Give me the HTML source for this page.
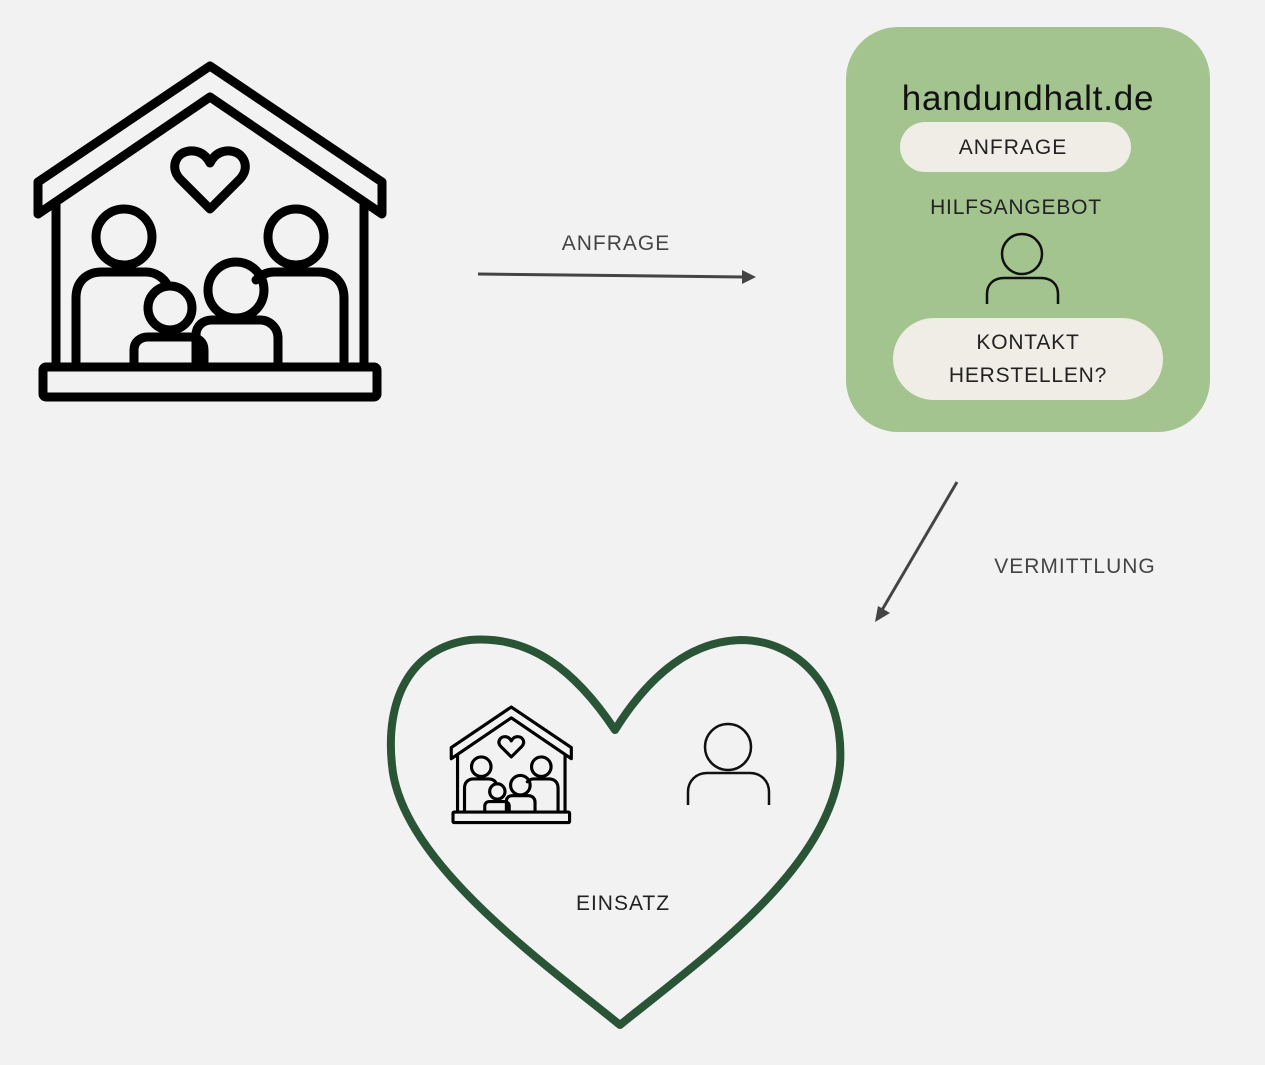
<!DOCTYPE html>
<html><head><meta charset="utf-8"><style>
body{margin:0;background:#f2f2f2;}
svg{display:block;font-family:"Liberation Sans",sans-serif;}
</style></head><body>
<svg width="1265" height="1065" viewBox="0 0 1265 1065" xmlns="http://www.w3.org/2000/svg">
<rect width="1265" height="1065" fill="#f2f2f2"/>
<defs>
<g id="house" fill="none" stroke="#000" stroke-width="9" stroke-linejoin="round" stroke-linecap="round">
<path d="M38,182 L210,66 L382,182 L382,214 L210,97 L38,214 Z"/>
<line x1="56" y1="205" x2="56" y2="366"/>
<line x1="364" y1="205" x2="364" y2="366"/>
<rect x="43" y="367" width="334" height="30" rx="3"/>
<path d="M210,209 L180,179 C168,166 178,149 194,151 C202,152 207,157 210,163 C213,157 218,152 226,151 C242,149 252,166 240,179 Z"/>
<circle cx="124" cy="237" r="28"/>
<path d="M76,362 L76,298 C76,282 86,272 102,272 L146,272 C156,272 164,278 168,286"/>
<circle cx="296" cy="237" r="28"/>
<path d="M344,362 L344,298 C344,282 334,272 318,272 L274,272 C266,272 260,276 256,280"/>
<circle cx="170" cy="308" r="22"/>
<path d="M134,362 L134,350 C134,342 140,337 148,337 L190,337 C198,337 204,342 204,350 L204,362"/>
<circle cx="236" cy="290" r="28"/>
<path d="M196,362 L196,335 C196,326 203,320 212,320 L260,320 C270,320 278,328 278,338 L278,362"/>
</g>
</defs>
<use href="#house"/>
<text x="616" y="250" font-size="21" fill="#444" text-anchor="middle" letter-spacing="1">ANFRAGE</text>
<line x1="478" y1="274" x2="744" y2="277" stroke="#444" stroke-width="3"/>
<path d="M756,277 L742,270 L742,284 Z" fill="#444"/>
<rect x="846" y="27" width="364" height="405" rx="52" fill="#a3c48f"/>
<text x="1028" y="110" font-size="35" fill="#111" text-anchor="middle" letter-spacing="0.8">handundhalt.de</text>
<rect x="900" y="122" width="231" height="50" rx="25" fill="#f0ede6"/>
<text x="1013" y="154" font-size="21" fill="#222" text-anchor="middle" letter-spacing="1">ANFRAGE</text>
<text x="1016" y="214" font-size="21" fill="#222" text-anchor="middle" letter-spacing="0.8">HILFSANGEBOT</text>
<circle cx="1022" cy="254" r="20" fill="none" stroke="#111" stroke-width="2.5"/>
<path d="M987,304 L987,294 C987,284 994,278 1004,278 L1041,278 C1051,278 1058,284 1058,294 L1058,304" fill="none" stroke="#111" stroke-width="2.5"/>
<rect x="893" y="318" width="270" height="82" rx="41" fill="#f0ede6"/>
<text x="1028" y="349" font-size="21" fill="#222" text-anchor="middle" letter-spacing="0.8">KONTAKT</text>
<text x="1028" y="382" font-size="21" fill="#222" text-anchor="middle" letter-spacing="0.8">HERSTELLEN?</text>
<line x1="957" y1="482" x2="882" y2="610" stroke="#444" stroke-width="3"/>
<path d="M875,622 L878,606 L890,613 Z" fill="#444"/>
<text x="1075" y="573" font-size="21" fill="#444" text-anchor="middle" letter-spacing="1">VERMITTLUNG</text>
<path d="M615,730 C575,670 530,635 470,640 C410,648 385,700 392,765 C400,860 540,960 620,1025 C700,960 830,870 840,765 C845,690 800,640 740,640 C680,642 640,690 615,730 Z" fill="none" stroke="#2a5436" stroke-width="8" stroke-linejoin="round"/>
<g transform="translate(438,684) scale(0.349)"><use href="#house"/></g>
<circle cx="728" cy="747" r="23" fill="none" stroke="#111" stroke-width="2.5"/>
<path d="M688,805 L688,792 C688,781 696,773 707,773 L750,773 C761,773 769,781 769,792 L769,805" fill="none" stroke="#111" stroke-width="2.5"/>
<text x="623" y="910" font-size="21" fill="#222" text-anchor="middle" letter-spacing="1">EINSATZ</text>
</svg>
</body></html>
